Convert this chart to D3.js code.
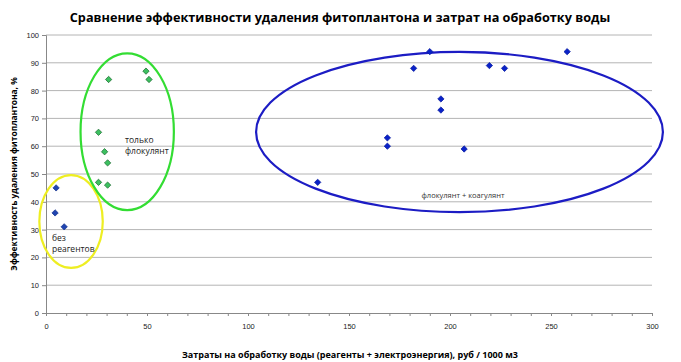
<!DOCTYPE html>
<html>
<head>
<meta charset="utf-8">
<title>Сравнение эффективности</title>
<style>
  body, html { margin: 0px; background: #fff; }
  svg { display: block; font-family: "Open Sans", "DejaVu Sans", sans-serif; }
</style>
<script src="https://cdn.jsdelivr.net/npm/d3@7"></script>
</head>
<body>
<svg id="chart" width="681" height="362"></svg>
<script>
// data: cost (rub / 1000 m3) vs. removal efficiency (%)
var noReagentX = [5, 4.5, 9];
var noReagentY = [45, 36, 31];

var flocX = [26, 31, 49.5, 51, 29, 30.5, 26, 30.5];
var flocY = [65, 84, 87, 84, 58, 54, 47, 46];

var flocCoagX = [134.5, 169, 169, 182, 190, 195.5, 195.5, 207, 219.5, 227, 258];
var flocCoagY = [47, 63, 60, 88, 94, 77, 73, 59, 89, 88, 94];

var xTicks = [0, 50, 100, 150, 200, 250, 300];
var yTicks = [0, 10, 20, 30, 40, 50, 60, 70, 80, 90, 100];

// group ellipses: centre and radii in data units
var groupNames = ["без реагентов", "только флокулянт", "флокулянт + коагулянт"];
var groupCx = [12.4, 40.2, 204.7];
var groupCy = [32.9, 65.2, 65.1];
var groupRx = [15.7, 23.1, 100.7];
var groupRy = [16.7, 28.2, 28.8];

var svg = d3.select('#chart');
var pLeft = 46, pRight = 652, pTop = 35, pBottom = 313;

var x = d3.scaleLinear().domain([0, 300]).range([pLeft, pRight]);
var y = d3.scaleLinear().domain([0, 100]).range([pBottom, pTop]);

// title
svg.append('text')
  .attr('x', 340).attr('y', 22)
  .attr('text-anchor', 'middle')
  .style('font-size', '12.7px').style('font-weight', 'bold')
  .text('Сравнение эффективности удаления фитоплантона и затрат на обработку воды');

// gridlines
svg.append('g').selectAll('line').data(yTicks.slice(1)).enter()
  .append('line')
  .attr('x1', pLeft).attr('x2', pRight)
  .attr('y1', function(d){ return y(d); }).attr('y2', function(d){ return y(d); })
  .style('stroke', '#b4b4b4').style('stroke-width', 1);

// y axis
var yAxis = svg.append('g')
  .attr('transform', 'translate(' + pLeft + ',0)')
  .call(d3.axisLeft(y).tickValues(yTicks).tickSize(4).tickPadding(3));
yAxis.select('.domain').style('stroke', '#888');
yAxis.selectAll('line').style('stroke', '#888');
yAxis.selectAll('text').style('font-size', '7.5px').style('fill', '#222').attr('font-family', null);

// x axis, minor ticks every 10
var xAxis = svg.append('g')
  .attr('transform', 'translate(0,' + pBottom + ')')
  .call(d3.axisBottom(x).tickValues(d3.range(0, 301, 10)).tickSize(3)
    .tickFormat(function(d){ return xTicks.indexOf(d) >= 0 ? d : ''; }).tickPadding(8));
xAxis.select('.domain').style('stroke', '#888');
xAxis.selectAll('line').style('stroke', '#888');
xAxis.selectAll('text').style('font-size', '7.5px').style('fill', '#222').attr('font-family', null);

// axis titles
svg.append('text')
  .attr('x', 350).attr('y', 358)
  .attr('text-anchor', 'middle')
  .style('font-size', '9px').style('font-weight', 'bold')
  .text('Затраты на обработку воды (реагенты + электроэнергия), руб / 1000 м3');

svg.append('text')
  .attr('transform', 'translate(17,' + 174 + ') rotate(-90)')
  .attr('text-anchor', 'middle')
  .style('font-size', '8.4px').style('font-weight', 'bold')
  .text('Эффективность удаления фитоплантона, %');

// ellipses
var ellColors = ['#eeee22', '#33dd33', '#1c1cc4'];
svg.append('g').selectAll('ellipse').data(groupNames).enter()
  .append('ellipse')
  .attr('cx', function(d, i){ return x(groupCx[i]); })
  .attr('cy', function(d, i){ return y(groupCy[i]); })
  .attr('rx', function(d, i){ return x(groupRx[i]) - x(0); })
  .attr('ry', function(d, i){ return y(0) - y(groupRy[i]); })
  .style('fill', 'none')
  .style('stroke', function(d, i){ return ellColors[i]; })
  .style('stroke-width', 2.2);

// points: square turned 45 degrees, like the spreadsheet marker
var diamond = d3.symbol().type(d3.symbolSquare).size(20);

function plotPoints(xs, ys, fill, stroke)
{
  svg.append('g').selectAll('path').data(xs).enter()
    .append('path')
    .attr('d', diamond)
    .attr('transform', function(d, i){ return 'translate(' + x(d) + ',' + y(ys[i]) + ') rotate(45)'; })
    .style('fill', fill)
    .style('stroke', stroke)
    .style('stroke-width', 0.7);
}

plotPoints(noReagentX, noReagentY, '#1f44b0', '#15338f');
plotPoints(flocX, flocY, '#3cc060', '#1e6a30');
plotPoints(flocCoagX, flocCoagY, '#0a22c8', '#0a1ca0');

// group labels
var lab = svg.append('g').style('font-size', '8.5px').style('fill', '#222');
lab.append('text').attr('x', 52).attr('y', 241).text('без');
lab.append('text').attr('x', 52).attr('y', 252).text('реагентов');
lab.append('text').attr('x', 125).attr('y', 143).text('только');
lab.append('text').attr('x', 125).attr('y', 154).text('флокулянт');
lab.append('text').attr('x', 463).attr('y', 198).attr('text-anchor', 'middle')
  .style('font-size', '7.5px').style('fill', '#333').text('флокулянт + коагулянт');
</script>
</body>
</html>
